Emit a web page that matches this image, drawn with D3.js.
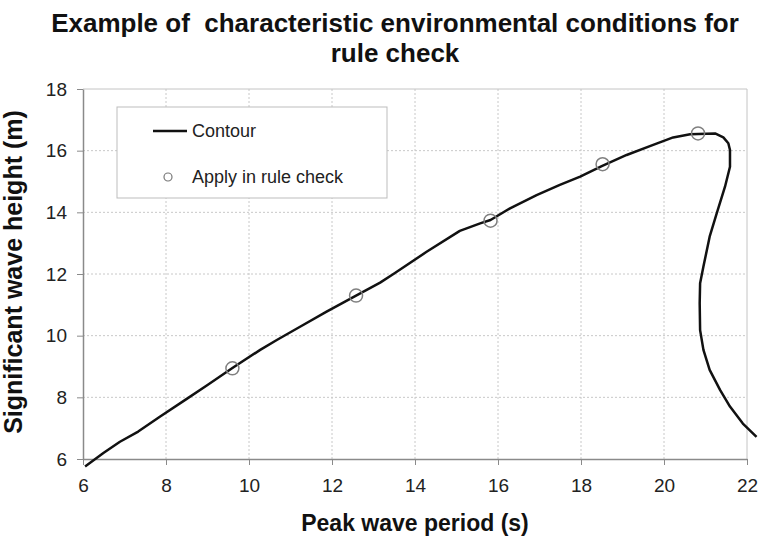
<!DOCTYPE html>
<html>
<head>
<meta charset="utf-8">
<script src="https://cdn.jsdelivr.net/npm/d3@7"></script>
<style>
  body { margin: 0; background: #fff; }
  text { font-family: "Liberation Sans", Arial, sans-serif; }
</style>
</head>
<body>
<svg width="760" height="541"></svg>
<script>
// contour: peak period (s) vs significant wave height (m)
var contourT = [6.05, 6.5, 6.89, 7.33, 7.86, 8.5, 9.0, 9.6, 10.27, 10.67, 11.23, 11.87,
  12.58, 13.16, 13.48, 14.28, 15.08, 15.57, 15.82, 16.29, 16.93, 17.49, 17.98, 18.5,
  19.1, 19.66, 20.22, 20.63, 21.23, 21.43, 21.55, 21.59, 21.59, 21.47, 21.27, 21.1,
  20.95, 20.87, 20.86, 20.87, 20.95, 21.1, 21.35, 21.59, 21.9, 22.23]
var contourH = [5.76, 6.2, 6.56, 6.89, 7.38, 7.95, 8.4, 8.95, 9.54, 9.86, 10.29, 10.78,
  11.3, 11.72, 12.0, 12.72, 13.4, 13.64, 13.75, 14.13, 14.56, 14.89, 15.16, 15.5,
  15.86, 16.15, 16.43, 16.53, 16.56, 16.43, 16.24, 16.02, 15.48, 14.83, 13.97, 13.21,
  12.24, 11.7, 11.05, 10.18, 9.54, 8.89, 8.24, 7.7, 7.15, 6.72]

// points applied in rule check
var checkT = [9.6, 12.58, 15.82, 18.52, 20.82]
var checkH = [8.94, 11.3, 13.73, 15.56, 16.56]

var xTicks = [6, 8, 10, 12, 14, 16, 18, 20, 22]
var yTicks = [6, 8, 10, 12, 14, 16, 18]

var
  svg = d3.select("svg"),
  plot = { left: 83, right: 747, top: 89, bottom: 459 }

var
  period = d3.scaleLinear().domain([6, 22]).range([plot.left, plot.right]),
  waveHeight = d3.scaleLinear().domain([6, 18]).range([plot.bottom, plot.top])

// grid
var grid = svg.append("g")
grid.selectAll(".gx").data(xTicks.slice(1, -1)).join("line")
  .attr("x1", d => period(d)).attr("x2", d => period(d))
  .attr("y1", plot.top).attr("y2", plot.bottom)
  .attr("stroke", "#c8c8c8").attr("stroke-dasharray", "2,2")
grid.selectAll(".gy").data(yTicks.slice(1, -1)).join("line")
  .attr("x1", plot.left).attr("x2", plot.right)
  .attr("y1", d => waveHeight(d)).attr("y2", d => waveHeight(d))
  .attr("stroke", "#c8c8c8").attr("stroke-dasharray", "2,2")

// light frame top / right
svg.append("path")
  .attr("d", `M${plot.left},${plot.top}H${plot.right}V${plot.bottom}`)
  .attr("fill", "none").attr("stroke", "#c4c4c4")

var xAxis = svg.append("g")
  .attr("transform", `translate(0,${plot.bottom})`)
  .call(d3.axisBottom(period).tickValues(xTicks).tickSize(6).tickPadding(14).tickSizeOuter(0))
var yAxis = svg.append("g")
  .attr("transform", `translate(${plot.left},0)`)
  .call(d3.axisLeft(waveHeight).tickValues(yTicks).tickSize(6).tickPadding(10).tickSizeOuter(0))

;[xAxis, yAxis].forEach(a => {
  a.select(".domain").attr("stroke", "#8a8a8a").attr("stroke-width", 1.5)
  a.selectAll(".tick line").attr("stroke", "#8a8a8a")
  a.selectAll(".tick text")
    .style("font-family", '"Liberation Sans", Arial, sans-serif')
    .style("font-size", "19px").attr("fill", "#222")
})

// legend
var legend = svg.append("g")
legend.append("rect")
  .attr("x", 117).attr("y", 107).attr("width", 270).attr("height", 91)
  .attr("fill", "#fff").attr("stroke", "#bdbdbd")
legend.append("line")
  .attr("x1", 153).attr("x2", 187).attr("y1", 131).attr("y2", 131)
  .attr("stroke", "#111").attr("stroke-width", 2.5)
legend.append("text").attr("x", 192).attr("y", 137)
  .style("font-size", "18px").attr("fill", "#222").text("Contour")
legend.append("circle").attr("cx", 168).attr("cy", 177).attr("r", 4)
  .attr("fill", "none").attr("stroke", "#777").attr("stroke-width", 1.2)
legend.append("text").attr("x", 192).attr("y", 183)
  .style("font-size", "18px").attr("fill", "#222").text("Apply in rule check")

// contour line
var line = d3.line()
  .x(i => period(contourT[i]))
  .y(i => waveHeight(contourH[i]))

svg.append("path")
  .attr("d", line(d3.range(contourT.length)))
  .attr("fill", "none").attr("stroke", "#111").attr("stroke-width", 2.5)
  .attr("stroke-linejoin", "round")

svg.selectAll(".check").data(d3.range(checkT.length)).join("circle")
  .attr("cx", i => period(checkT[i]))
  .attr("cy", i => waveHeight(checkH[i]))
  .attr("r", 6.5)
  .attr("fill", "none").attr("stroke", "#808080").attr("stroke-width", 1.5)

// titles
svg.append("text").attr("x", 395).attr("y", 32)
  .attr("text-anchor", "middle").style("white-space", "pre")
  .style("font-size", "26px").style("font-weight", "bold").attr("fill", "#111")
  .text("Example of  characteristic environmental conditions for")
svg.append("text").attr("x", 395).attr("y", 62)
  .attr("text-anchor", "middle")
  .style("font-size", "26px").style("font-weight", "bold").attr("fill", "#111")
  .text("rule check")

svg.append("text").attr("x", 415).attr("y", 531)
  .attr("text-anchor", "middle")
  .style("font-size", "23px").style("font-weight", "bold").attr("fill", "#111")
  .text("Peak wave period (s)")

svg.append("text")
  .attr("transform", `translate(22,272) rotate(-90)`)
  .attr("text-anchor", "middle")
  .style("font-size", "25px").style("font-weight", "bold").attr("fill", "#111")
  .text("Significant wave height (m)")
</script>
</body>
</html>
